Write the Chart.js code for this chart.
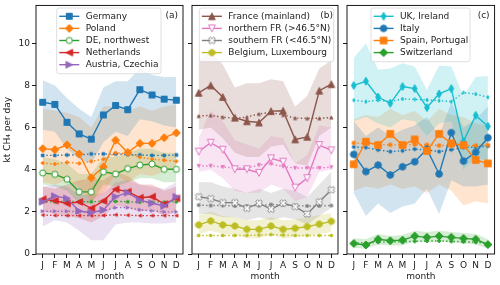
<!DOCTYPE html>
<html>
<head>
<meta charset="utf-8">
<script src="https://cdn.jsdelivr.net/npm/chart.js@4.4.1/dist/chart.umd.min.js"></script>
<style>
  body { margin: 0; background: #fff; }
  #wrap { position: relative; width: 500px; height: 285px; }
  #wrap canvas { position: absolute; left: 0; top: 0; }
</style>
</head>
<body>
<div id="wrap">
  <canvas id="pa" width="500" height="285"></canvas>
  <canvas id="pb" width="500" height="285"></canvas>
  <canvas id="pc" width="500" height="285"></canvas>
</div>
<script>
const months = ['J', 'F', 'M', 'A', 'M', 'J', 'J', 'A', 'S', 'O', 'N', 'D'];

// (a)
const germany      = [7.2, 7.1, 6.25, 5.7, 5.45, 6.6, 7.05, 6.85, 7.8, 7.55, 7.35, 7.3];
const germanyPrior = [4.68, 4.68, 4.7, 4.7, 4.75, 4.75, 4.75, 4.72, 4.7, 4.68, 4.68, 4.7];
const germanyLo    = [5.9, 5.8, 5.0, 4.5, 4.3, 5.3, 5.8, 5.6, 6.4, 6.3, 6.1, 6.0];
const germanyHi    = [8.25, 8.0, 7.4, 6.9, 6.5, 7.9, 8.2, 8.2, 8.8, 8.5, 8.4, 8.4];

const poland      = [5.0, 4.95, 5.18, 4.75, 3.62, 4.14, 5.4, 4.82, 5.25, 5.25, 5.52, 5.75];
const polandPrior = [4.32, 4.27, 4.35, 4.3, 4.4, 4.5, 4.8, 4.75, 4.6, 4.5, 4.45, 4.4];
const polandLo    = [3.4, 3.3, 3.5, 3.2, 2.5, 2.9, 3.8, 3.4, 3.8, 3.7, 3.9, 4.2];
const polandHi    = [6.9, 6.8, 6.7, 6.5, 6.0, 7.0, 7.0, 6.8, 7.0, 6.8, 7.0, 7.1];

const deNW      = [3.85, 3.78, 3.55, 2.95, 2.95, 3.9, 3.8, 4.05, 4.22, 4.27, 4.02, 4.02];
const deNWPrior = [2.48, 2.48, 2.5, 2.48, 2.48, 2.5, 2.5, 2.48, 2.46, 2.46, 2.46, 2.48];
const deNWLo    = [3.3, 3.2, 3.0, 2.4, 2.4, 3.3, 3.2, 3.4, 3.6, 3.6, 3.4, 3.4];
const deNWHi    = [4.6, 4.5, 4.3, 3.8, 3.8, 4.6, 4.6, 4.8, 5.0, 5.0, 4.8, 4.8];

const netherlands = [2.6, 2.53, 2.4, 2.47, 2.17, 2.52, 3.07, 2.96, 2.67, 2.72, 2.37, 2.64];
const nlPrior     = [1.85, 1.83, 1.82, 1.82, 1.82, 1.83, 1.86, 1.84, 1.82, 1.82, 1.82, 1.82];
const nlLo        = [2.0, 1.9, 1.8, 1.7, 1.5, 1.8, 2.3, 2.2, 2.0, 2.1, 1.8, 2.0];
const nlHi        = [3.2, 3.1, 3.3, 3.5, 3.6, 3.5, 3.9, 3.7, 3.3, 3.3, 3.0, 3.2];

const austria = [2.48, 2.75, 2.64, 2.04, 1.96, 2.09, 2.72, 2.91, 2.56, 2.41, 2.28, 2.72];
const atPrior = [2.03, 2.03, 2.03, 2.0, 2.0, 2.05, 2.2, 2.2, 2.1, 2.05, 2.0, 2.0];
const atLo    = [1.3, 1.6, 1.5, 1.1, 0.65, 0.65, 1.4, 1.5, 1.5, 1.45, 1.45, 1.5];
const atHi    = [3.2, 3.3, 3.2, 2.8, 2.8, 2.9, 3.4, 3.5, 3.3, 3.2, 3.1, 3.4];

// (b)
const france  = [7.65, 8.0, 7.45, 6.47, 6.3, 6.24, 6.78, 6.8, 5.44, 5.56, 7.75, 8.06];
const frPrior = [6.55, 6.58, 6.5, 6.44, 6.5, 6.65, 6.72, 6.6, 6.45, 6.44, 6.44, 6.48];
const frLo    = [5.9, 6.0, 5.5, 4.8, 4.6, 4.6, 5.1, 5.2, 4.3, 4.2, 5.6, 6.0];
const frHi    = [9.2, 9.6, 9.0, 7.9, 8.1, 8.1, 8.3, 8.2, 7.0, 7.5, 8.8, 9.2];

const northFR  = [4.86, 5.28, 4.95, 4.02, 4.02, 3.85, 4.54, 4.38, 3.15, 3.6, 5.17, 4.92];
const nfrPrior = [4.18, 4.18, 4.13, 4.08, 4.08, 4.22, 4.28, 4.15, 4.08, 4.08, 4.08, 4.12];
const nfrLo    = [3.9, 4.0, 3.6, 3.0, 2.9, 2.9, 3.3, 3.1, 2.5, 2.7, 3.9, 4.0];
const nfrHi    = [5.5, 6.8, 6.3, 5.4, 5.2, 5.0, 5.6, 5.5, 4.3, 4.7, 6.1, 6.0];

const southFR  = [2.72, 2.63, 2.44, 2.44, 2.17, 2.41, 2.13, 2.41, 2.25, 1.9, 2.48, 3.05];
const sfrPrior = [2.32, 2.3, 2.3, 2.28, 2.28, 2.3, 2.35, 2.33, 2.3, 2.28, 2.28, 2.3];
const sfrLo    = [1.9, 1.9, 1.75, 1.75, 1.6, 1.75, 1.6, 1.75, 1.65, 1.4, 1.8, 2.2];
const sfrHi    = [3.4, 3.4, 3.2, 3.1, 2.9, 3.1, 2.9, 3.1, 3.0, 2.7, 3.3, 3.9];

const belux      = [1.38, 1.57, 1.38, 1.33, 1.17, 1.17, 1.33, 1.17, 1.22, 1.3, 1.42, 1.55];
const beluxPrior = [0.88, 0.88, 0.88, 0.88, 0.88, 0.9, 0.92, 0.9, 0.88, 0.88, 0.88, 0.88];
const beluxLo    = [0.95, 1.1, 0.95, 0.9, 0.75, 0.75, 0.9, 0.75, 0.8, 0.85, 0.95, 1.05];
const beluxHi    = [1.85, 2.0, 1.8, 1.75, 1.6, 1.6, 1.75, 1.6, 1.65, 1.75, 1.85, 1.95];

// (c)
const ukIre   = [8.0, 8.2, 7.45, 7.15, 7.95, 7.85, 6.95, 7.6, 7.85, 5.35, 6.58, 6.06];
const ukPrior = [7.3, 7.23, 7.3, 7.23, 7.36, 7.34, 7.31, 7.28, 7.23, 7.66, 7.59, 7.44];
const ukLo    = [6.3, 6.5, 6.2, 6.0, 6.4, 6.3, 5.6, 6.2, 6.3, 4.0, 4.6, 4.4];
const ukHi    = [9.3, 10.0, 8.75, 8.8, 9.05, 8.9, 7.8, 8.95, 8.9, 7.5, 8.4, 8.45];

const italy   = [4.73, 3.91, 4.22, 3.75, 4.14, 4.38, 4.97, 3.8, 5.76, 4.41, 4.83, 5.52];
const itPrior = [5.08, 5.05, 4.94, 4.86, 4.9, 4.98, 4.94, 4.86, 4.95, 5.05, 5.08, 5.12];
const itLo    = [2.9, 1.8, 2.4, 1.95, 2.25, 2.4, 3.1, 1.9, 3.5, 3.2, 3.2, 3.3];
const itHi    = [6.3, 5.6, 6.0, 5.6, 5.9, 6.1, 6.5, 5.6, 7.2, 6.0, 6.4, 7.0];

const spainPt = [4.26, 5.33, 5.17, 5.7, 5.17, 5.44, 4.89, 5.7, 5.25, 5.17, 4.46, 4.3];
const esPrior = [5.27, 5.24, 5.2, 5.18, 5.18, 5.2, 5.18, 5.15, 5.15, 5.15, 5.15, 5.17];
const esLo    = [3.0, 3.2, 3.1, 3.3, 3.1, 3.2, 2.9, 3.3, 3.0, 2.3, 2.5, 2.4];
const esHi    = [6.4, 6.6, 6.5, 6.9, 6.6, 6.8, 6.3, 6.9, 6.6, 6.5, 6.2, 6.1];

const swiss   = [0.5, 0.43, 0.7, 0.63, 0.66, 0.85, 0.79, 0.85, 0.79, 0.74, 0.7, 0.45];
const chPrior = [0.52, 0.52, 0.56, 0.57, 0.58, 0.6, 0.62, 0.62, 0.6, 0.58, 0.56, 0.5];
const chLo    = [0.3, 0.25, 0.45, 0.4, 0.4, 0.6, 0.55, 0.6, 0.55, 0.5, 0.45, 0.25];
const chHi    = [0.75, 0.7, 0.95, 0.85, 0.9, 1.1, 1.05, 1.1, 1.05, 1.0, 0.95, 0.7];

const yTicksMax = 11.8;

Chart.defaults.font.family = '"DejaVu Sans", sans-serif';
Chart.defaults.font.size = 9;
Chart.defaults.color = '#222';

// marker shapes, roughly matplotlib's
function markerPath(ctx, shape, x, y, s) {
  const poly = pts => {
    ctx.moveTo(x + pts[0][0], y + pts[0][1]);
    for (let i = 1; i < pts.length; i++) ctx.lineTo(x + pts[i][0], y + pts[i][1]);
    ctx.closePath();
  };
  ctx.beginPath();
  if (shape === 's') ctx.rect(x - s, y - s, 2 * s, 2 * s);
  else if (shape === 'o') ctx.arc(x, y, s, 0, Math.PI * 2);
  else if (shape === 'D') poly([[0, -s], [s, 0], [0, s], [-s, 0]]);
  else if (shape === 'd') poly([[0, -s], [0.6 * s, 0], [0, s], [-0.6 * s, 0]]);
  else if (shape === '^') poly([[0, -s], [s, s], [-s, s]]);
  else if (shape === 'v') poly([[0, s], [s, -s], [-s, -s]]);
  else if (shape === '<') poly([[-s, 0], [s, -s], [s, s]]);
  else if (shape === '>') poly([[s, 0], [-s, -s], [-s, s]]);
  else if (shape === '8') {
    const p = [];
    for (let k = 0; k < 8; k++) {
      const a = Math.PI / 8 + k * Math.PI / 4;
      p.push([s * Math.cos(a), s * Math.sin(a)]);
    }
    poly(p);
  } else if (shape === 'X') {
    const L = s * 1.05, t = s * 0.36;
    const plus = [[t, L], [t, t], [L, t], [L, -t], [t, -t], [t, -L], [-t, -L], [-t, -t], [-L, -t], [-L, t], [-t, t], [-t, L]];
    const c = Math.SQRT1_2;
    poly(plus.map(([px, py]) => [px * c - py * c, px * c + py * c]));
  }
}

function makeMarker(shape, s, fill, stroke, lw) {
  const n = Math.ceil(2 * s * 1.3 + lw + 2);
  const cv = document.createElement('canvas');
  cv.width = n; cv.height = n;
  const ctx = cv.getContext('2d');
  markerPath(ctx, shape, n / 2, n / 2, s);
  ctx.fillStyle = fill;
  ctx.fill();
  if (lw > 0) {
    ctx.strokeStyle = stroke;
    ctx.lineWidth = lw;
    ctx.lineJoin = 'miter';
    ctx.stroke();
  }
  return cv;
}

function alpha(hex, a) {
  const v = parseInt(hex.slice(1), 16);
  return `rgba(${v >> 16},${(v >> 8) & 255},${v & 255},${a})`;
}

const panelA = [
  { label: 'Germany', y: germany, prior: germanyPrior, lo: germanyLo, hi: germanyHi, color: '#1f77b4', marker: 's', size: 3.0 },
  { label: 'Poland', y: poland, prior: polandPrior, lo: polandLo, hi: polandHi, color: '#ff7f0e', marker: 'D', size: 4.0 },
  { label: 'DE, northwest', y: deNW, prior: deNWPrior, lo: deNWLo, hi: deNWHi, color: '#2ca02c', marker: 'o', size: 3.1, open: true },
  { label: 'Netherlands', y: netherlands, prior: nlPrior, lo: nlLo, hi: nlHi, color: '#d62728', marker: '<', size: 3.3 },
  { label: 'Austria, Czechia', y: austria, prior: atPrior, lo: atLo, hi: atHi, color: '#9467bd', marker: '>', size: 3.3 }
];
const panelB = [
  { label: 'France (mainland)', y: france, prior: frPrior, lo: frLo, hi: frHi, color: '#8c564b', marker: '^', size: 3.3 },
  { label: 'northern FR (>46.5°N)', y: northFR, prior: nfrPrior, lo: nfrLo, hi: nfrHi, color: '#e377c2', marker: 'v', size: 3.4, open: true },
  { label: 'southern FR (<46.5°N)', y: southFR, prior: sfrPrior, lo: sfrLo, hi: sfrHi, color: '#7f7f7f', marker: 'X', size: 3.4, open: true },
  { label: 'Belgium, Luxembourg', y: belux, prior: beluxPrior, lo: beluxLo, hi: beluxHi, color: '#bcbd22', marker: '8', size: 3.3 }
];
const panelC = [
  { label: 'UK, Ireland', y: ukIre, prior: ukPrior, lo: ukLo, hi: ukHi, color: '#17becf', marker: 'd', size: 4.0 },
  { label: 'Italy', y: italy, prior: itPrior, lo: itLo, hi: itHi, color: '#1f77b4', marker: 'o', size: 3.3 },
  { label: 'Spain, Portugal', y: spainPt, prior: esPrior, lo: esLo, hi: esHi, color: '#ff7f0e', marker: 's', size: 3.3 },
  { label: 'Switzerland', y: swiss, prior: chPrior, lo: chLo, hi: chHi, color: '#2ca02c', marker: 'D', size: 4.0 }
];

function buildDatasets(series) {
  const solid = [], dotted = [], bands = [];
  series.forEach(sr => {
    sr.img = makeMarker(sr.marker, sr.size, sr.open ? '#fff' : sr.color, sr.color, 1);
    solid.unshift({
      data: sr.y, borderColor: sr.color, borderWidth: 1.4,
      pointStyle: sr.img, pointRadius: 3, fill: false
    });
    dotted.unshift({
      data: sr.prior, borderColor: sr.color, borderWidth: 1.4, borderDash: [1.4, 2.3],
      pointStyle: makeMarker(sr.marker, sr.size * 0.5, sr.color, sr.color, 0.6), pointRadius: 2, fill: false
    });
    bands.push({ data: sr.lo, borderWidth: 0, borderColor: 'transparent', pointRadius: 0, fill: false });
    bands.push({ data: sr.hi, borderWidth: 0, borderColor: 'transparent', pointRadius: 0, fill: '-1', backgroundColor: alpha(sr.color, 0.2) });
  });
  return solid.concat(dotted, bands);
}

const decor = {
  id: 'decor',
  afterDraw(chart, args, o) {
    const { ctx, chartArea: a } = chart;
    ctx.save();
    ctx.strokeStyle = '#000';
    ctx.lineWidth = 0.9;
    ctx.strokeRect(a.left, a.top, a.right - a.left, a.bottom - a.top);

    ctx.beginPath();
    ctx.roundRect(o.x, o.y, o.w, o.h, 2.5);
    ctx.fillStyle = 'rgba(255,255,255,0.8)';
    ctx.fill();
    ctx.strokeStyle = 'rgba(204,204,204,0.8)';
    ctx.lineWidth = 0.8;
    ctx.stroke();

    ctx.font = '9px "DejaVu Sans", sans-serif';
    ctx.textBaseline = 'middle';
    o.series.forEach((sr, i) => {
      const y = o.y + 8.3 + i * 12.1;
      const x1 = o.x + 2.6, x2 = o.x + 22.6;
      ctx.beginPath();
      ctx.moveTo(x1, y); ctx.lineTo(x2, y);
      ctx.strokeStyle = sr.color; ctx.lineWidth = 1.4;
      ctx.stroke();
      ctx.drawImage(sr.img, (x1 + x2) / 2 - sr.img.width / 2, y - sr.img.height / 2);
      ctx.fillStyle = '#222';
      ctx.textAlign = 'left';
      ctx.fillText(sr.label, o.x + 29, y);
    });
    ctx.fillStyle = '#222';
    ctx.textAlign = 'right';
    ctx.fillText(o.letter, a.right - 5, 16);
    ctx.restore();
  }
};

function makePanel(id, series, pad, yWidth, showY, legendBox, letter) {
  return new Chart(document.getElementById(id), {
    type: 'line',
    data: { labels: months.map((m, i) => i), datasets: buildDatasets(series) },
    plugins: [decor],
    options: {
      responsive: false,
      animation: false,
      devicePixelRatio: 1,
      layout: { padding: pad },
      elements: { line: { tension: 0 } },
      plugins: {
        legend: { display: false },
        tooltip: { enabled: false },
        filler: { drawTime: 'beforeDatasetsDraw' },
        decor: Object.assign({ series: series, letter: letter }, legendBox)
      },
      scales: {
        x: {
          type: 'linear', min: -0.55, max: 11.55,
          afterFit(s) { s.height = 31; s.paddingLeft = 0; s.paddingRight = 0; },
          border: { display: false },
          grid: { drawOnChartArea: false, tickLength: 4, color: '#000', lineWidth: 0.9 },
          ticks: {
            stepSize: 1, includeBounds: false, autoSkip: false, maxRotation: 0,
            padding: 2, color: '#222',
            callback: v => months[Math.round(v)]
          },
          title: { display: true, text: 'month', color: '#222', padding: { top: 0, bottom: 3 } }
        },
        y: {
          min: 0, max: yTicksMax,
          afterFit(s) { s.width = yWidth; s.paddingTop = 0; s.paddingBottom = 0; },
          border: { display: false },
          grid: { drawOnChartArea: false, tickLength: 4, color: '#000', lineWidth: 0.9 },
          ticks: { stepSize: 2, includeBounds: false, display: showY, padding: 2, color: '#222' },
          title: { display: showY, text: 'kt CH₄ per day', color: '#222', padding: { top: 2.6, bottom: 0 } }
        }
      }
    }
  });
}

makePanel('pa', panelA, { left: 0, right: 317, top: 5, bottom: 0 }, 36, true,
  { x: 56.7, y: 8, w: 104.3, h: 65.7 }, '(a)');
makePanel('pb', panelB, { left: 188, right: 162, top: 5, bottom: 0 }, 4, false,
  { x: 199.3, y: 8, w: 134.4, h: 53.7 }, '(b)');
makePanel('pc', panelC, { left: 343, right: 5, top: 5, bottom: 0 }, 4, false,
  { x: 371, y: 8, w: 99, h: 53.7 }, '(c)');
</script>
</body>
</html>
